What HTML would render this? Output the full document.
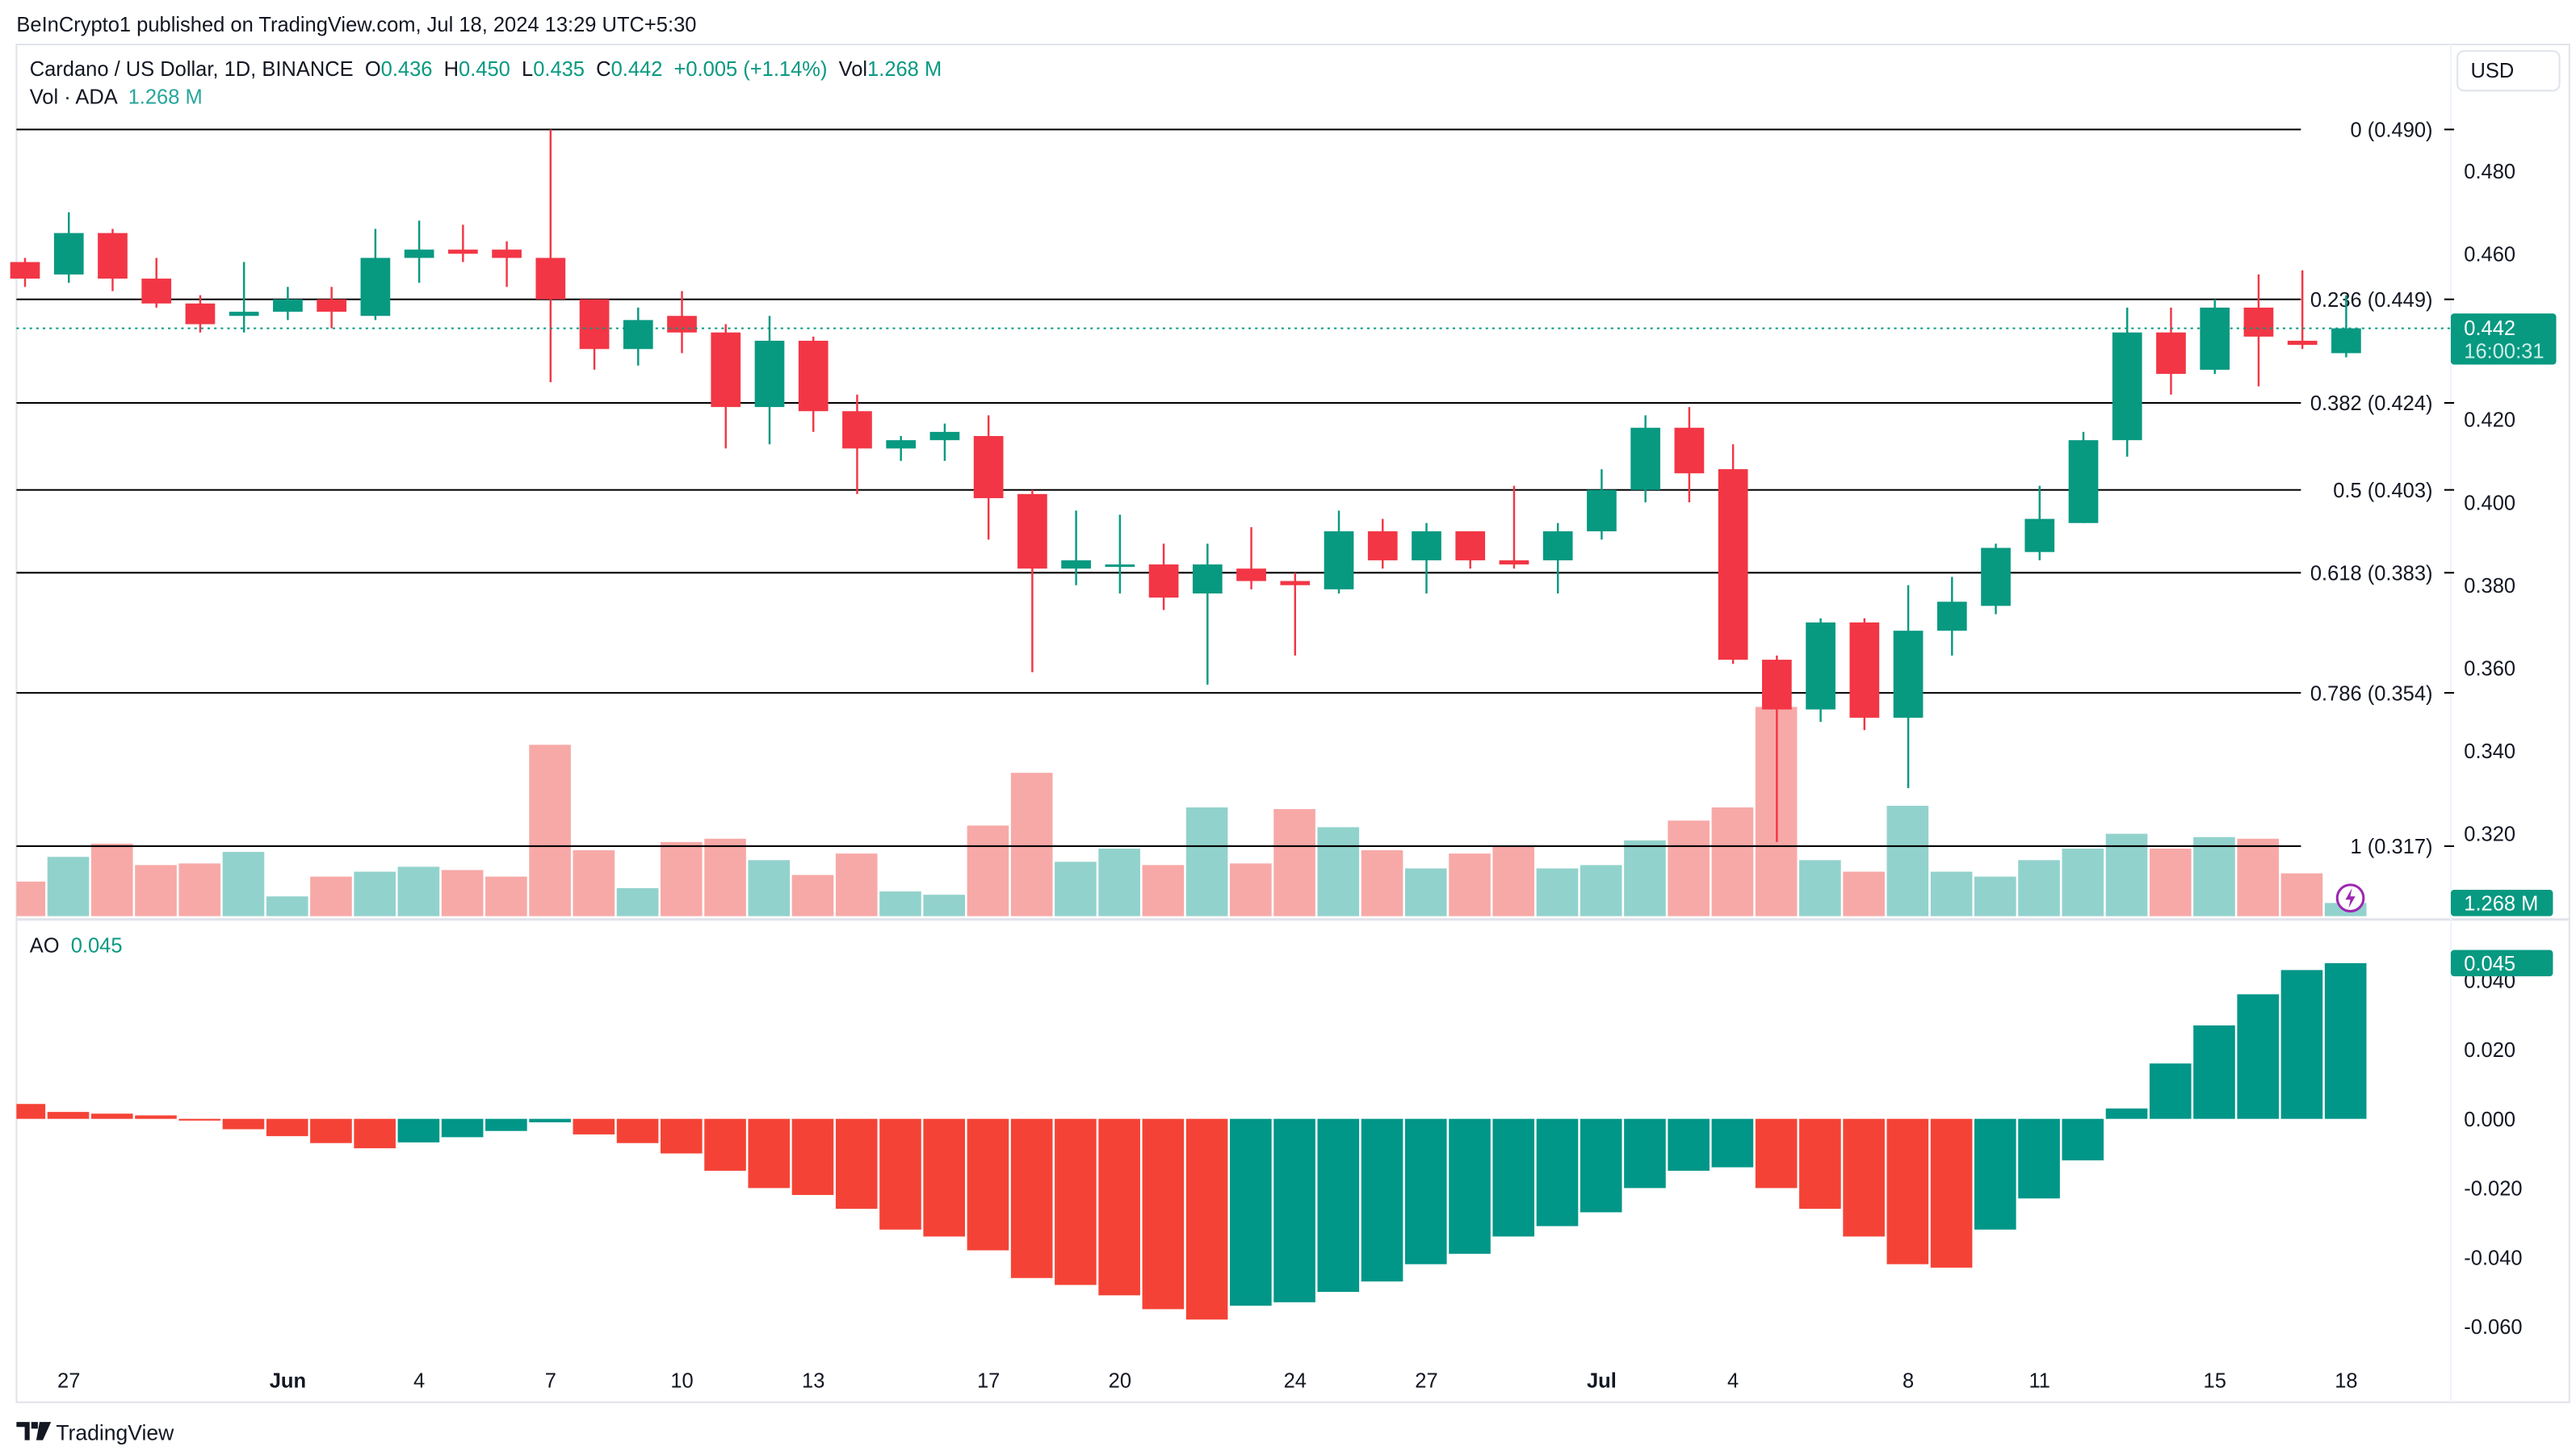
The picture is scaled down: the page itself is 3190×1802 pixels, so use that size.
<!DOCTYPE html>
<html><head><meta charset="utf-8">
<style>
html,body{margin:0;padding:0;background:#fff;}
svg{display:block;font-family:"Liberation Sans",sans-serif;}
</style></head>
<body>
<svg id="chart" width="3190" height="1802" viewBox="0 0 1564 883" preserveAspectRatio="none" xmlns="http://www.w3.org/2000/svg">
<rect x="0" y="0" width="1564" height="883" fill="#fff"/>
<text x="10" y="19" font-size="12.5" fill="#131722">BeInCrypto1 published on TradingView.com, Jul 18, 2024 13:29 UTC+5:30</text>
<rect x="10" y="27" width="1550" height="824" fill="none" stroke="#e0e3eb" stroke-width="1"/>
<line x1="10" y1="558" x2="1560" y2="558" stroke="#e0e3eb" stroke-width="1.5"/>
<line x1="1488" y1="27" x2="1488" y2="851" stroke="#f0f3fa" stroke-width="1"/>
<g font-size="12.5">
<text x="18" y="46" fill="#131722" xml:space="preserve">Cardano / US Dollar, 1D, BINANCE  O<tspan fill="#089981">0.436</tspan>  H<tspan fill="#089981">0.450</tspan>  L<tspan fill="#089981">0.435</tspan>  C<tspan fill="#089981">0.442  +0.005 (+1.14%)</tspan>  Vol<tspan fill="#089981">1.268 M</tspan></text>
<text x="18" y="63" fill="#131722" xml:space="preserve">Vol · ADA  <tspan fill="#26a69a">1.268 M</tspan></text>
<text x="18" y="578" fill="#131722" xml:space="preserve">AO  <tspan fill="#089981">0.045</tspan></text>
</g>
<g>
<rect x="1492" y="31" width="62" height="24" rx="4" fill="#fff" stroke="#e0e3eb"/>
<text x="1500" y="47" font-size="12.5" fill="#131722">USD</text>
</g>
<g id="vol"></g><g id="fib"></g><g id="candles"></g><g id="ao"></g><g id="axes"></g>
<g>
<path d="M10 863h8v11h-3v-8h-5z M19 863h4v4h-4z M24 863h7l-5 11h-4z" fill="#131722"/>
<text x="34" y="874" font-size="13" fill="#131722">TradingView</text>
</g>
</svg>
<script>
const dates=["26","27","28","29","30","31","Jun","2","3","4","5","6","7","8","9","10","11","12","13","14","15","16","17","18","19","20","21","22","23","24","25","26","27","28","29","30","Jul","2","3","4","5","6","7","8","9","10","11","12","13","14","15","16","17","18"];
const opens=[.458,.455,.465,.454,.448,.445,.446,.449,.445,.459,.461,.461,.459,.449,.437,.445,.441,.423,.439,.422,.413,.415,.416,.402,.384,.385,.385,.378,.384,.381,.379,.393,.386,.393,.386,.386,.393,.403,.418,.408,.362,.350,.371,.348,.369,.375,.388,.395,.415,.441,.432,.447,.439,.436];
const highs=[.459,.470,.466,.459,.450,.458,.452,.452,.466,.468,.467,.463,.490,.449,.447,.451,.443,.445,.440,.426,.416,.419,.421,.403,.398,.397,.390,.390,.394,.383,.398,.396,.395,.393,.404,.395,.408,.421,.423,.414,.363,.372,.372,.380,.382,.390,.404,.417,.447,.447,.449,.455,.456,.450];
const lows=[.452,.453,.451,.447,.441,.441,.444,.442,.444,.453,.458,.452,.429,.432,.433,.436,.413,.414,.417,.402,.410,.410,.391,.359,.380,.378,.374,.356,.379,.363,.378,.384,.378,.384,.384,.378,.391,.400,.400,.361,.318,.347,.345,.331,.363,.373,.386,.395,.411,.426,.431,.428,.437,.435];
const closes=[.454,.465,.454,.448,.443,.446,.449,.446,.459,.461,.460,.459,.449,.437,.444,.441,.423,.439,.422,.413,.415,.417,.401,.384,.386,.385,.377,.385,.381,.380,.393,.386,.393,.386,.385,.393,.403,.418,.407,.362,.350,.371,.348,.369,.376,.389,.396,.415,.441,.431,.447,.440,.438,.442];
const volumes=[21,36,44,31,32,39,12,24,27,30,28,24,104,40,17,45,47,34,25,38,15,13,55,87,33,41,31,66,32,65,54,40,29,38,42,29,31,46,58,66,127,34,27,67,27,24,34,41,50,41,48,47,26,8];
const aoValues=[.0043,.002,.0015,.001,-.0005,-.003,-.005,-.007,-.0085,-.0068,-.0053,-.0035,-.001,-.0045,-.007,-.010,-.015,-.020,-.022,-.026,-.032,-.034,-.038,-.046,-.048,-.051,-.055,-.058,-.054,-.053,-.050,-.047,-.042,-.039,-.034,-.031,-.027,-.020,-.015,-.014,-.020,-.026,-.034,-.042,-.043,-.032,-.023,-.012,.003,.016,.027,.036,.043,.045];
const priceTicks=[0.480,0.460,0.420,0.400,0.380,0.360,0.340,0.320];
const aoTicks=[0.040,0.020,0.000,-0.020,-0.040,-0.060];
const fibLevels=["0","0.236","0.382","0.5","0.618","0.786","1"];
const fibPrices=[0.490,0.449,0.424,0.403,0.383,0.354,0.317];
const dateTicks=[1,6,9,12,15,18,22,25,29,32,36,39,43,46,50,53];
const dateTickLabels=["27","Jun","4","7","10","13","17","20","24","27","Jul","4","8","11","15","18"];

const NS="http://www.w3.org/2000/svg";
const GREEN="#089981",RED="#F23645";
const xs=i=>15.2+i*26.59;
const yp=p=>154+(0.46-p)*2514;
const yv=v=>556-v;
const ya=a=>679-a*2100;
function mk(tag,attrs,parent){const e=document.createElementNS(NS,tag);for(const k in attrs)e.setAttribute(k,attrs[k]);parent.appendChild(e);return e;}
const gV=document.getElementById('vol'),gF=document.getElementById('fib'),gC=document.getElementById('candles'),gA=document.getElementById('ao'),gX=document.getElementById('axes');

for(let i=0;i<opens.length;i++){
  const up=closes[i]>=opens[i];
  const x=xs(i);
  let x0=Math.max(10,x-13),x1=x+12.3;
  const vb=mk('rect',{x:x0,y:yv(volumes[i]),width:x1-x0,height:volumes[i],fill:up?"#92d2cc":"#f7a9a7"},gV);
  
  
  const c=up?GREEN:RED;
  const w=mk('line',{x1:x,x2:x,y1:yp(highs[i]),y2:yp(lows[i]),stroke:c,'stroke-width':1.2},gC);
  
  
  const top=yp(Math.max(opens[i],closes[i])),bot=yp(Math.min(opens[i],closes[i]));
  const b=mk('rect',{x:x-9,y:top,width:18,height:Math.max(1.5,bot-top),fill:c},gC);
  
  
  const a=aoValues[i];
  const aup=i===0?false:a>aoValues[i-1];
  const ab=mk('rect',{x:x0,y:Math.min(ya(a),ya(0)),width:x1-x0,height:Math.max(0.8,Math.abs(ya(a)-ya(0))),fill:aup?"#009688":"#F44336"},gA);
  
  
}
for(let k=0;k<fibPrices.length;k++){
  const y=yp(fibPrices[k]);
  const l=mk('line',{x1:10,x2:1397,y1:y,y2:y,stroke:"#000",'stroke-width':1},gF);
  
  
  mk('line',{x1:1484,x2:1490,y1:y,y2:y,stroke:"#000",'stroke-width':1},gF);
  const t=mk('text',{x:1477,y:y+4.5,'font-size':12.5,fill:"#131722",'text-anchor':'end'},gF);
  t.textContent=fibLevels[k]+" ("+fibPrices[k].toFixed(3)+")";
  
  
}
for(const p of priceTicks){
  const t=mk('text',{x:1496,y:yp(p)+4.5,'font-size':12.5,fill:"#131722"},gX);
  t.textContent=p.toFixed(3);
  
  
}
for(const a of aoTicks){
  const t=mk('text',{x:1496,y:ya(a)+4.5,'font-size':12.5,fill:"#131722"},gX);
  t.textContent=a.toFixed(3);
  
  
}
for(let k=0;k<dateTicks.length;k++){
  const t=mk('text',{x:xs(dateTicks[k]),y:842,'font-size':12.5,fill:"#131722",'text-anchor':'middle','font-weight':(dateTickLabels[k]==="Jun"||dateTickLabels[k]==="Jul")?"bold":"normal"},gX);
  t.textContent=dateTickLabels[k];
  
  
}
const last=closes[closes.length-1];
const pl=mk('line',{x1:10,x2:1488,y1:yp(last),y2:yp(last),stroke:GREEN,'stroke-width':1,'stroke-dasharray':'1.5 2.5'},gX);


const pb=mk('rect',{x:1488,y:yp(last)-9,width:64,height:31,rx:2,fill:GREEN},gX);


const pt=mk('text',{x:1496,y:yp(last)+4,'font-size':12.5,fill:"#fff"},gX);pt.textContent=last.toFixed(3);
const ct=mk('text',{x:1496,y:yp(last)+18,'font-size':12.5,fill:"#cdeee8"},gX);ct.textContent="16:00:31";
const vbx=mk('rect',{x:1488,y:540,width:62,height:16,rx:2,fill:GREEN},gX);


const vt=mk('text',{x:1496,y:552.5,'font-size':12.5,fill:"#fff"},gX);vt.textContent="1.268 M";
const lastAo=aoValues[aoValues.length-1];
const abx=mk('rect',{x:1488,y:ya(lastAo)-8,width:62,height:16,rx:2,fill:GREEN},gX);


const at=mk('text',{x:1496,y:ya(lastAo)+4.5,'font-size':12.5,fill:"#fff"},gX);at.textContent=lastAo.toFixed(3);
const ic=mk('circle',{cx:1427,cy:545,r:8,fill:"#fff",stroke:"#9c27b0",'stroke-width':1.5},gX);


mk('path',{d:"M1428 539l-4 7h3l-1 5 4-7h-3z",fill:"#9c27b0"},gX);
</script>
</body></html>
